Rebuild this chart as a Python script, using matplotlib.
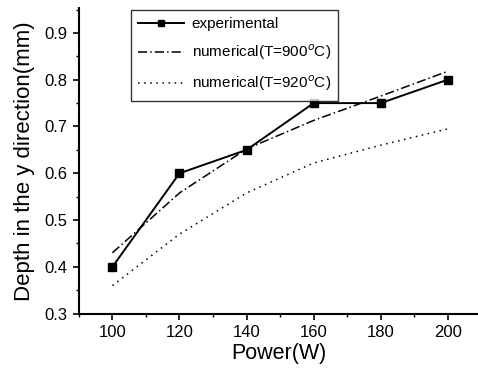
import matplotlib.pyplot as plt
from matplotlib.ticker import MultipleLocator

plt.rcParams['font.family'] = ['Liberation Sans', 'DejaVu Sans']

power = [100, 120, 140, 160, 180, 200]
experimental = [0.40, 0.60, 0.65, 0.75, 0.75, 0.80]
num_900 = [0.43, 0.558, 0.652, 0.713, 0.765, 0.818]
num_920 = [0.36, 0.47, 0.558, 0.622, 0.66, 0.695]

fig = plt.figure(figsize=(4.78, 3.69), dpi=100)
ax = fig.add_axes([0.165, 0.15, 0.835, 0.828])

ax.plot(power, experimental, '-s', color='black', lw=1.4, ms=5.5,
        label='experimental')
ax.plot(power, num_900, color='black', lw=1.1, ls=(0, (6, 2, 1, 2)),
        label='numerical(T=900$^{o}$C)')
ax.plot(power, num_920, color='black', lw=1.1, ls=(0, (1, 3)),
        label='numerical(T=920$^{o}$C)')

ax.set_xlim(90, 209)
ax.set_ylim(0.3, 0.953)
ax.set_xticks(power)
ax.set_yticks([0.3, 0.4, 0.5, 0.6, 0.7, 0.8, 0.9])
ax.xaxis.set_minor_locator(MultipleLocator(10))
ax.yaxis.set_minor_locator(MultipleLocator(0.05))
ax.tick_params(labelsize=12, width=1.2, length=4, pad=4)
ax.tick_params(which='minor', length=2.5, width=1)

for side in ['top', 'right']:
    ax.spines[side].set_visible(False)
for side in ['left', 'bottom']:
    ax.spines[side].set_linewidth(1.5)

ax.set_xlabel('Power(W)', fontsize=15.5, labelpad=2)
ax.set_ylabel('Depth in the y direction(mm)', fontsize=16, labelpad=7)

leg = ax.legend(loc='upper left', bbox_to_anchor=(0.118, 1.01), fontsize=11,
                frameon=True, fancybox=False, edgecolor='black',
                handlelength=3.0, handletextpad=0.5, borderpad=0.5,
                labelspacing=0.75, borderaxespad=0.3, markerscale=0.8)
leg.get_frame().set_linewidth(1.0)

fig.savefig('out.png', dpi=100)
